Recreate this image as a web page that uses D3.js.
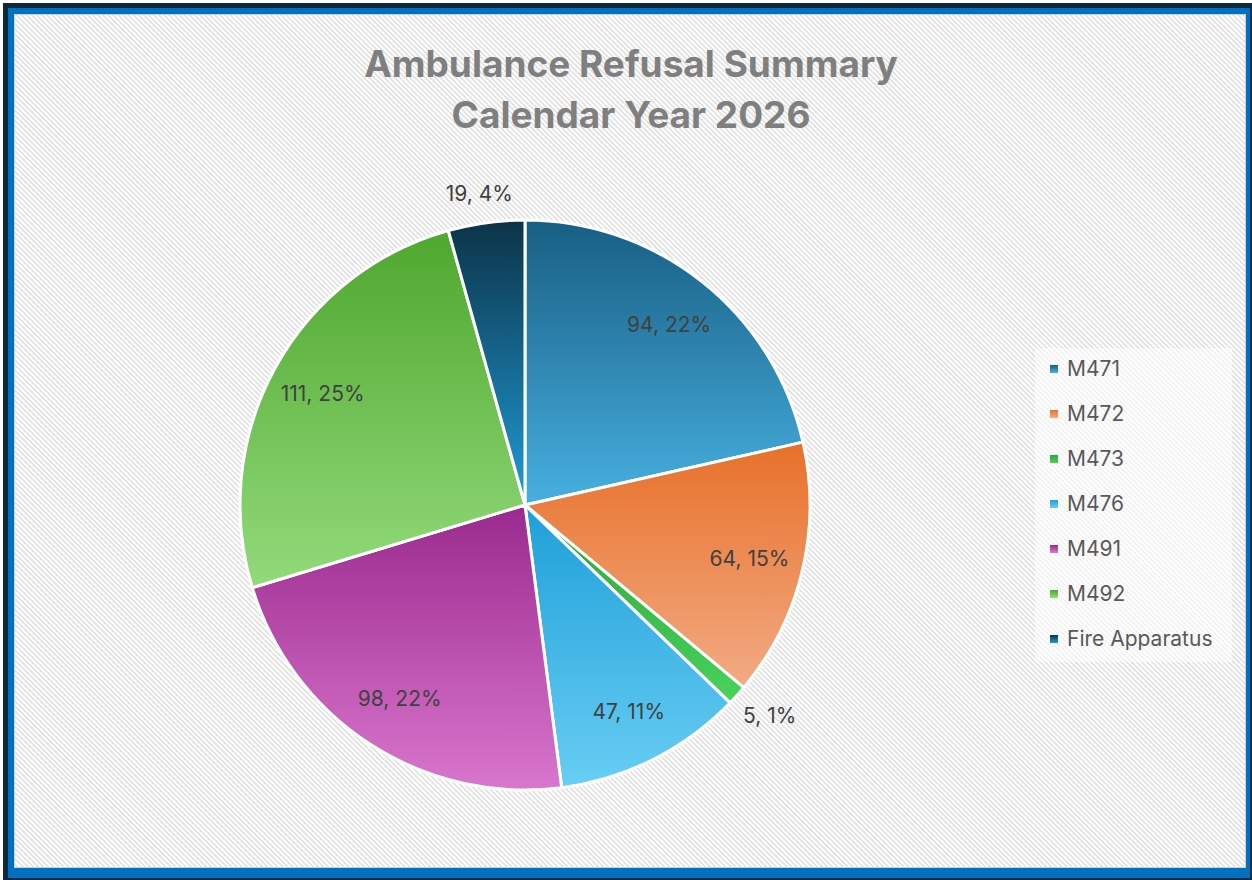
<!DOCTYPE html>
<html>
<head>
<meta charset="utf-8">
<script src="https://cdn.jsdelivr.net/npm/d3@7"></script>
<style>
  body { margin: 0; background: #ffffff; }
  svg { display: block; }
  text { font-family: Inter, "Noto Sans", sans-serif; }
</style>
</head>
<body>
<div id="chart"></div>
<script>
const width = 1252
const height = 880

// data
const units = ['M471', 'M472', 'M473', 'M476', 'M491', 'M492', 'Fire Apparatus']
const refusals = [94, 64, 5, 47, 98, 111, 19]
const percents = [22, 15, 1, 11, 22, 25, 4]
const topColors = ['#185e83', '#e8702a', '#2ea33a', '#1f9fd8', '#9a2a8e', '#4ea72e', '#0c3347']
const bottomColors = ['#47b0e0', '#f2ab84', '#48d35c', '#68cef4', '#d976cd', '#93da7b', '#209bd7']
const titleLines = ['Ambulance Refusal Summary', 'Calendar Year 2026']

const cx = 525, cy = 505, radius = 285

let svg = d3.select('#chart').append('svg')
    .attr('width', width)
    .attr('height', height)

let defs = svg.append('defs')

// diagonal hatch background
let pat = defs.append('pattern')
    .attr('id', 'hatch')
    .attr('patternUnits', 'userSpaceOnUse')
    .attr('width', 3.6)
    .attr('height', 4)
    .attr('patternTransform', 'rotate(-45)')
pat.append('rect').attr('width', 3.6).attr('height', 4).attr('fill', '#ffffff')
pat.append('rect').attr('width', 1.8).attr('height', 4).attr('fill', '#e2e2e2')

units.forEach(function (u, i) {
    let g = defs.append('linearGradient')
        .attr('id', 'grad' + i)
        .attr('x1', 0).attr('y1', 0).attr('x2', 0).attr('y2', 1)
    g.append('stop').attr('offset', '0%').attr('stop-color', topColors[i])
    g.append('stop').attr('offset', '100%').attr('stop-color', bottomColors[i])
})

// frame
svg.append('rect').attr('x', 3).attr('y', 3).attr('width', 1249).attr('height', 877).attr('fill', '#0d2a3c')
svg.append('rect').attr('x', 8).attr('y', 8).attr('width', 1242).attr('height', 870).attr('fill', '#0070c0')
svg.append('rect').attr('x', 14.5).attr('y', 14.5).attr('width', 1231).attr('height', 853)
    .attr('fill', 'url(#hatch)')
    .attr('stroke', '#cfcfcf')
    .attr('stroke-width', 1)

// title
svg.selectAll('.title')
    .data(titleLines)
    .enter()
    .append('text')
    .attr('class', 'title')
    .attr('x', 631)
    .attr('y', function (d, i) { return 77 + i * 51 })
    .attr('text-anchor', 'middle')
    .attr('font-size', 37)
    .attr('font-weight', 700)
    .attr('fill', '#7f7f7f')
    .text(function (d) { return d })

// pie
let rows = units.map(function (u, i) {
    return { unit: u, value: refusals[i], pct: percents[i], idx: i }
})

let pie = d3.pie().sort(null).value(function (d) { return d.value })
let arcs = pie(rows)
let arc = d3.arc().innerRadius(0).outerRadius(radius)

let g = svg.append('g').attr('transform', 'translate(' + cx + ',' + cy + ')')

g.selectAll('path')
    .data(arcs)
    .enter()
    .append('path')
    .attr('d', arc)
    .attr('fill', function (d) { return 'url(#grad' + d.data.idx + ')' })
    .attr('stroke', '#ffffff')
    .attr('stroke-width', 3)
    .attr('stroke-linejoin', 'round')

// data labels: inside at 0.81r, small slices outside (box pushed off the rim)
let labels = g.selectAll('.lbl')
    .data(arcs)
    .enter()
    .append('text')
    .attr('class', 'lbl')
    .attr('text-anchor', 'middle')
    .attr('dy', '0.35em')
    .attr('font-size', 21)
    .attr('fill', '#404040')
    .text(function (d) { return d.data.value + ', ' + d.data.pct + '%' })

labels.attr('transform', function (d) {
    let a = (d.startAngle + d.endAngle) / 2
    let x, y
    if (d.data.pct < 5) {
        let bb = this.getBBox()
        x = Math.sin(a) * radius * 1.06 + Math.sin(a) * bb.width / 2
        y = -Math.cos(a) * radius * 1.06 - Math.cos(a) * bb.height / 2
    } else {
        x = Math.sin(a) * radius * 0.81
        y = -Math.cos(a) * radius * 0.81
    }
    return 'translate(' + x + ',' + y + ')'
})

// legend
svg.append('rect')
    .attr('x', 1035).attr('y', 348).attr('width', 197).attr('height', 314)
    .attr('fill', '#ffffff').attr('opacity', 0.55)

let items = svg.selectAll('.leg')
    .data(rows)
    .enter()
    .append('g')
    .attr('class', 'leg')
    .attr('transform', function (d, i) { return 'translate(1050,' + (369 + i * 45) + ')' })

items.append('rect')
    .attr('x', 0).attr('y', -4).attr('width', 8).attr('height', 8)
    .attr('fill', function (d) { return 'url(#grad' + d.idx + ')' })

items.append('text')
    .attr('x', 17)
    .attr('dy', '0.35em')
    .attr('font-size', 21)
    .attr('fill', '#595959')
    .text(function (d) { return d.unit })
</script>
</body>
</html>
